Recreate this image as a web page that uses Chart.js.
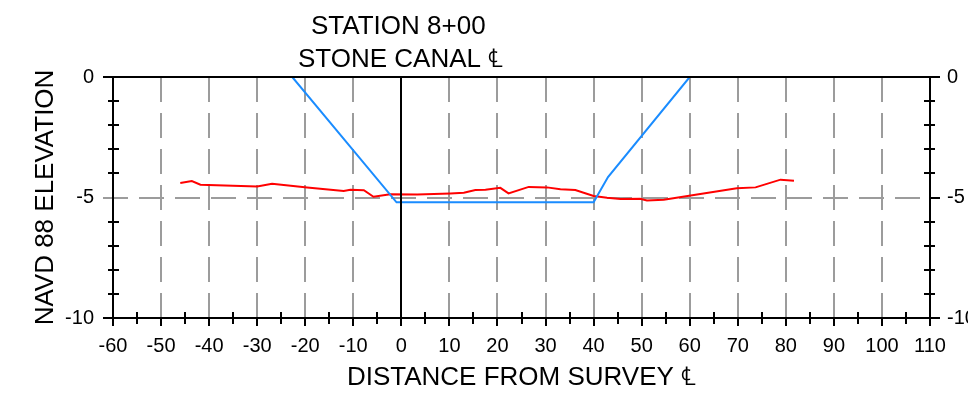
<!DOCTYPE html>
<html>
<head>
<meta charset="utf-8">
<script src="https://cdn.jsdelivr.net/npm/chart.js@4/dist/chart.umd.min.js"></script>
<style>
  html, body { margin: 0; padding: 0; background: #fff; }
  #wrap { width: 968px; height: 407px; }
</style>
</head>
<body>
<div id="wrap"><canvas id="section" width="968" height="407"></canvas></div>
<script>
// design section (blue) and surveyed ground (red)
const designX = [-22.7, -1, 40, 43, 60];
const designY = [0, -5.2, -5.2, -4.15, 0];

const groundX = [-46, -43.6, -41.8, -30.0, -26.9, -19.6, -12.0, -10.6, -7.8, -5.8, -2.3, 3.3,
  10.2, 13, 15.4, 17.5, 20.6, 22.3, 26.5, 30.3, 33.1, 36.2, 40, 42.8, 45.6, 49.7, 51.1, 54.6,
  69.8, 73.7, 78.9, 81.7];
const groundY = [-4.40, -4.32, -4.47, -4.54, -4.43, -4.59, -4.73, -4.68, -4.70, -4.97, -4.87, -4.88,
  -4.83, -4.80, -4.69, -4.68, -4.60, -4.83, -4.56, -4.58, -4.66, -4.69, -4.94, -5.01, -5.06, -5.05, -5.12, -5.09,
  -4.62, -4.58, -4.26, -4.30];

const titleLines = ['STATION 8+00', 'STONE CANAL \u2104'];
const xTitle = 'DISTANCE FROM SURVEY \u2104';
const yTitle = 'NAVD 88 ELEVATION';

const FONT = '"Liberation Sans", Arial, sans-serif';

function pts(xs, ys) {
  return xs.map((v, i) => ({ x: v, y: ys[i] }));
}

// dashed grid, axis frame, minor ticks, heading
const sectionFrame = {
  id: 'sectionFrame',
  beforeDatasetsDraw(chart) {
    const { ctx, chartArea: a, scales: { x, y } } = chart;
    ctx.save();
    ctx.strokeStyle = '#9c9c9c';
    ctx.lineWidth = 2;
    ctx.setLineDash([25, 11]);
    x.ticks.forEach(t => {
      if (t.value === x.min || t.value === x.max || t.value === 0) return;
      const px = Math.round(x.getPixelForValue(t.value));
      ctx.beginPath();
      ctx.moveTo(px, a.top);
      ctx.lineTo(px, a.bottom);
      ctx.stroke();
    });
    y.ticks.forEach(t => {
      if (t.value === y.min || t.value === y.max) return;
      const py = Math.round(y.getPixelForValue(t.value));
      ctx.beginPath();
      ctx.moveTo(a.left - 10, py);
      ctx.lineTo(a.right, py);
      ctx.stroke();
    });
    ctx.restore();
  },
  afterDatasetsDraw(chart) {
    const { ctx, chartArea: a, scales: { x, y } } = chart;
    ctx.save();
    ctx.strokeStyle = '#000';
    ctx.lineWidth = 2;
    ctx.beginPath();
    // frame
    ctx.moveTo(a.left - 10, a.top); ctx.lineTo(a.right + 10, a.top);
    ctx.moveTo(a.left - 10, a.bottom); ctx.lineTo(a.right + 10, a.bottom);
    ctx.moveTo(a.left, a.top); ctx.lineTo(a.left, a.bottom + 8);
    ctx.moveTo(a.right, a.top); ctx.lineTo(a.right, a.bottom + 8);
    // survey centreline
    const x0 = Math.round(x.getPixelForValue(0));
    ctx.moveTo(x0, a.top); ctx.lineTo(x0, a.bottom + 8);
    // x ticks
    for (let v = x.min + 5; v < x.max; v += 5) {
      const px = Math.round(x.getPixelForValue(v));
      if (v % 10 === 0) {
        ctx.moveTo(px, a.bottom); ctx.lineTo(px, a.bottom + 8);
      } else {
        ctx.moveTo(px, a.bottom - 6); ctx.lineTo(px, a.bottom + 6);
      }
    }
    // y minor ticks, both sides
    for (let v = y.min + 1; v < y.max; v += 1) {
      if (v % 5 === 0) continue;
      const py = Math.round(y.getPixelForValue(v));
      ctx.moveTo(a.left - 5, py); ctx.lineTo(a.left + 6, py);
      ctx.moveTo(a.right - 6, py); ctx.lineTo(a.right + 5, py);
    }
    ctx.stroke();
    // -5 tick on the right
    const p5 = Math.round(y.getPixelForValue(-5));
    ctx.beginPath();
    ctx.moveTo(a.right, p5); ctx.lineTo(a.right + 10, p5);
    ctx.stroke();

    // heading
    ctx.fillStyle = '#000';
    ctx.font = '26px ' + FONT;
    ctx.textAlign = 'left';
    ctx.textBaseline = 'alphabetic';
    ctx.fillText(titleLines[0], 311, 34);
    ctx.fillText(titleLines[1], 298, 67);
    ctx.restore();
  }
};

new Chart(document.getElementById('section'), {
  type: 'line',
  data: {
    datasets: [
      {
        label: 'Design',
        data: pts(designX, designY),
        borderColor: '#1a8cff',
        borderWidth: 2,
        pointRadius: 0,
        tension: 0,
        fill: false
      },
      {
        label: 'Ground',
        data: pts(groundX, groundY),
        borderColor: '#ff0000',
        borderWidth: 2,
        pointRadius: 0,
        tension: 0,
        fill: false
      }
    ]
  },
  options: {
    responsive: false,
    animation: false,
    devicePixelRatio: 1,
    layout: { padding: { top: 77, left: 0, right: 0, bottom: 0 } },
    plugins: {
      legend: { display: false },
      tooltip: { enabled: false },
      title: { display: false }
    },
    scales: {
      x: {
        type: 'linear',
        min: -60,
        max: 110,
        grid: { display: false, drawTicks: false },
        border: { display: false },
        ticks: { stepSize: 10, padding: 16, color: '#000', font: { family: FONT, size: 20 }, maxRotation: 0, autoSkip: false },
        title: { display: true, text: xTitle, color: '#000', font: { family: FONT, size: 26 }, padding: { top: 0, bottom: 14 } },
        afterFit(s) { s.height = 89; }
      },
      y: {
        type: 'linear',
        position: 'left',
        min: -10,
        max: 0,
        grid: { display: false, drawTicks: false },
        border: { display: false },
        ticks: { stepSize: 5, padding: 19, color: '#000', font: { family: FONT, size: 20 } },
        title: { display: true, text: yTitle, color: '#000', font: { family: FONT, size: 26 }, padding: { top: 30, bottom: 0 } },
        afterFit(s) { s.width = 113; }
      },
      y2: {
        type: 'linear',
        position: 'right',
        min: -10,
        max: 0,
        grid: { display: false, drawTicks: false },
        border: { display: false },
        ticks: { stepSize: 5, padding: 17, color: '#000', font: { family: FONT, size: 20 } },
        afterFit(s) { s.width = 38; }
      }
    }
  },
  plugins: [sectionFrame]
});
</script>
</body>
</html>
